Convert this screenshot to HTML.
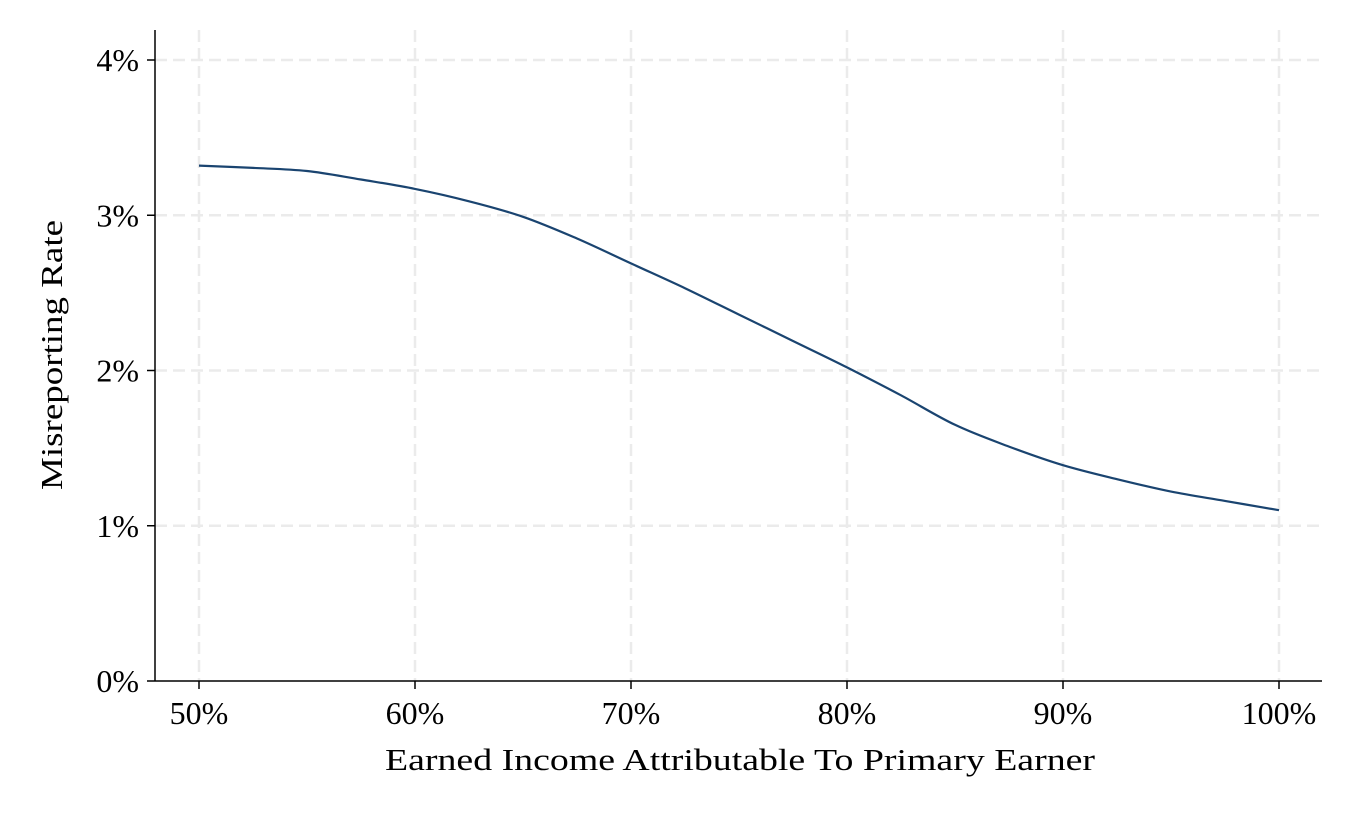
<!DOCTYPE html>
<html><head><meta charset="utf-8">
<style>
html,body{margin:0;padding:0;background:#fff;}
svg text{font-family:"Liberation Serif",serif;fill:#000;}
</style></head>
<body>
<svg id="chart" width="1352" height="811" viewBox="0 0 1352 811" xmlns="http://www.w3.org/2000/svg">
<g id="grid"></g>
<g id="axes"></g>
<path id="line" fill="none" stroke="#1a4470" stroke-width="2.2"/>
<text x="385" y="770" font-size="31" textLength="710" lengthAdjust="spacingAndGlyphs">Earned Income Attributable To Primary Earner</text>
<text transform="translate(62,490) rotate(-90)" font-size="31" textLength="270" lengthAdjust="spacingAndGlyphs">Misreporting Rate</text>
</svg>
<script>
const xValues=[50,52.5,55,57.5,60,62.5,65,67.5,70,72.5,75,77.5,80,82.5,85,87.5,90,92.5,95,97.5,100];
const yValues=[3.32,3.305,3.285,3.23,3.17,3.09,2.99,2.85,2.69,2.53,2.36,2.19,2.02,1.84,1.65,1.51,1.39,1.30,1.22,1.16,1.10];
const xTicks=[50,60,70,80,90,100];
const yTicks=[0,1,2,3,4];
const NS="http://www.w3.org/2000/svg";
const sx=v=>199+(v-50)*21.6;
const sy=v=>681-v*155.25;
const grid=document.getElementById('grid'),axes=document.getElementById('axes');
function mk(tag,attrs,parent){const e=document.createElementNS(NS,tag);for(const k in attrs)e.setAttribute(k,attrs[k]);parent.appendChild(e);return e;}
xTicks.forEach(t=>{
  const g=mk('line',{x1:sx(t),x2:sx(t),y1:30,y2:681,stroke:'#ebebeb','stroke-width':2.5,'stroke-dasharray':'12,6'},grid);
  
  
  const tk=mk('line',{x1:sx(t),x2:sx(t),y1:681,y2:689,stroke:'#000','stroke-width':1.5},axes);
  
  
  const lb=mk('text',{x:sx(t),y:724,'font-size':32,'text-anchor':'middle'},axes);
  lb.textContent=t+'%';
  
  
});
yTicks.forEach(t=>{
  if(t>0){const g=mk('line',{x1:155,x2:1322,y1:sy(t),y2:sy(t),stroke:'#ebebeb','stroke-width':2.5,'stroke-dasharray':'12,6'},grid);
  
  }
  const tk=mk('line',{x1:147,x2:155,y1:sy(t),y2:sy(t),stroke:'#000','stroke-width':1.5},axes);
  
  
  const lb=mk('text',{x:139,y:sy(t)+11,'font-size':32,'text-anchor':'end'},axes);
  lb.textContent=t+'%';
  
  
});
const ya=mk('line',{x1:155,x2:155,y1:30,y2:681,stroke:'#000','stroke-width':1.5},axes);


const xa=mk('line',{x1:155,x2:1322,y1:681,y2:681,stroke:'#000','stroke-width':1.5},axes);


const pts=xValues.map((x,i)=>[sx(x),sy(yValues[i])]);
let d='M'+pts[0][0].toFixed(1)+','+pts[0][1].toFixed(1);
for(let i=0;i<pts.length-1;i++){
  const p0=pts[Math.max(0,i-1)],p1=pts[i],p2=pts[i+1],p3=pts[Math.min(pts.length-1,i+2)];
  const c1=[p1[0]+(p2[0]-p0[0])/6,p1[1]+(p2[1]-p0[1])/6];
  const c2=[p2[0]-(p3[0]-p1[0])/6,p2[1]-(p3[1]-p1[1])/6];
  d+=' C'+c1[0].toFixed(1)+','+c1[1].toFixed(1)+' '+c2[0].toFixed(1)+','+c2[1].toFixed(1)+' '+p2[0].toFixed(1)+','+p2[1].toFixed(1);
}
document.getElementById('line').setAttribute('d',d);
</script>
</body></html>
